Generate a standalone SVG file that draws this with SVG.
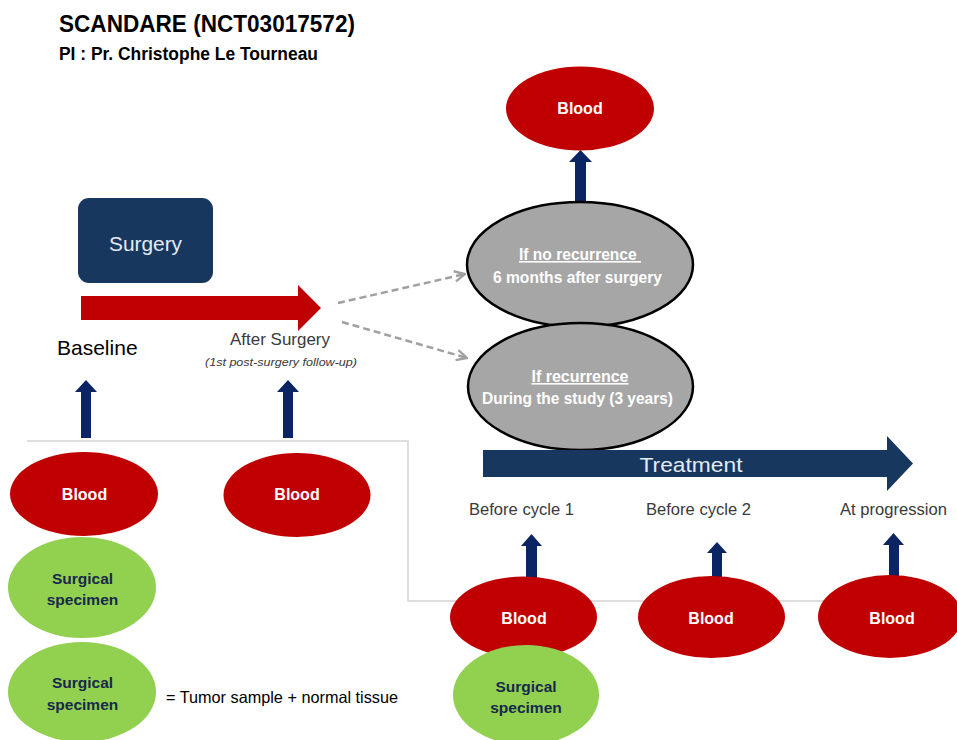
<svg xmlns="http://www.w3.org/2000/svg" width="957" height="740" viewBox="0 0 957 740">
<defs>
<style>
text{font-family:"Liberation Sans",Arial,sans-serif;}
.b{font-weight:bold;}
.w{fill:#ffffff;}
.red{fill:#c00000;}
.grn{fill:#92d050;}
.gry{fill:#a6a6a6;stroke:#000000;stroke-width:2.5;}
.gt{fill:#17294b;font-weight:bold;font-size:15.5px;}
.bt{fill:#ffffff;font-weight:bold;font-size:16px;}
.lbl{fill:#3a3a3a;font-size:16.5px;}
.up{fill:#0b2463;}
.dash{fill:none;stroke:#a0a0a0;stroke-width:2.5;stroke-dasharray:7 4;}
</style>
<marker id="open" viewBox="0 0 10 10" refX="9" refY="5" markerWidth="13" markerHeight="13" markerUnits="userSpaceOnUse" orient="auto">
<path d="M1,1 L9,5 L1,9" fill="none" stroke="#a0a0a0" stroke-width="1.8"/>
</marker>
</defs>
<rect width="957" height="740" fill="#ffffff"/>

<g id="title">
<text x="59" y="32" class="b" font-size="23.5" fill="#000" textLength="296" lengthAdjust="spacingAndGlyphs">SCANDARE (NCT03017572)</text>
<text x="59" y="60" class="b" font-size="18" fill="#000" textLength="259" lengthAdjust="spacingAndGlyphs">PI : Pr. Christophe Le Tourneau</text>
</g>

<g id="connectors">
<polyline points="27,441 408,441 408,601 957,601" fill="none" stroke="#d4d4d4" stroke-width="1.5"/>
<path class="dash" d="M338,303 L465,274" marker-end="url(#open)"/>
<path class="dash" d="M342,322 L467,358" marker-end="url(#open)"/>
<path class="up" d="M81,438 L81,392 L75,392 L86,380 L97,392 L91,392 L91,438 Z"/>
<path class="up" d="M283,438 L283,392 L277,392 L288,380 L299,392 L293,392 L293,438 Z"/>
<path class="up" d="M575,203 L575,162 L569,162 L580.5,150 L592,162 L586,162 L586,203 Z"/>
<path class="up" d="M526,578 L526,546 L521,546 L531.5,534 L542,546 L537,546 L537,578 Z"/>
<path class="up" d="M712,578 L712,553 L707,553 L717,542 L727,553 L722,553 L722,578 Z"/>
<path class="up" d="M889,576 L889,545 L883,545 L893.5,533 L904,545 L899,545 L899,576 Z"/>
</g>

<g id="surgery">
<rect x="78" y="198" width="135" height="85" rx="11" fill="#17375e"/>
<text x="145.5" y="251" font-size="21" fill="#e4ebf5" text-anchor="middle" textLength="73" lengthAdjust="spacingAndGlyphs">Surgery</text>
</g>

<g id="surgery-arrow">
<path d="M81,296 L298,296 L298,285 L321,308 L298,331 L298,320 L81,320 Z" fill="#c00000"/>
</g>

<g id="baseline-label">
<text x="57" y="355" font-size="21" fill="#000">Baseline</text>
</g>

<g id="after-surgery-label">
<text x="280" y="345" class="lbl" font-size="17" text-anchor="middle" textLength="100" lengthAdjust="spacingAndGlyphs">After Surgery</text>
<text x="281" y="366" font-size="11" font-style="italic" fill="#3a3a3a" text-anchor="middle" textLength="152" lengthAdjust="spacingAndGlyphs">(1st post-surgery follow-up)</text>
</g>

<g id="blood-followup">
<ellipse cx="580" cy="108.5" rx="74" ry="42" class="red"/>
<text x="580" y="114" class="bt" text-anchor="middle">Blood</text>
</g>

<g id="no-recurrence">
<ellipse cx="580" cy="264.5" rx="113" ry="62.5" class="gry"/>
<text x="580" y="260" class="bt" text-anchor="middle" text-decoration="underline" textLength="122" lengthAdjust="spacingAndGlyphs" xml:space="preserve">If no recurrence </text>
<text x="577.5" y="283" class="bt" text-anchor="middle" textLength="169" lengthAdjust="spacingAndGlyphs">6 months after surgery</text>
</g>

<g id="recurrence">
<ellipse cx="580.5" cy="386.5" rx="112.5" ry="63.5" class="gry"/>
<text x="580" y="382" class="bt" text-anchor="middle" text-decoration="underline" textLength="97" lengthAdjust="spacingAndGlyphs">If recurrence</text>
<text x="577.5" y="404" class="bt" text-anchor="middle" textLength="191" lengthAdjust="spacingAndGlyphs">During the study (3 years)</text>
</g>

<g id="treatment">
<path d="M483,450 L887,450 L887,436 L913,463.5 L887,491 L887,477 L483,477 Z" fill="#17375e"/>
<text x="691" y="472" font-size="21" fill="#e4ebf5" text-anchor="middle" textLength="103" lengthAdjust="spacingAndGlyphs">Treatment</text>
</g>

<g id="timepoint-labels">
<text x="521.5" y="515" class="lbl" text-anchor="middle" textLength="105" lengthAdjust="spacingAndGlyphs">Before cycle 1</text>
<text x="698.5" y="515" class="lbl" text-anchor="middle" textLength="105" lengthAdjust="spacingAndGlyphs">Before cycle 2</text>
<text x="893.5" y="515" class="lbl" text-anchor="middle" textLength="107" lengthAdjust="spacingAndGlyphs">At progression</text>
</g>

<g id="blood-baseline">
<ellipse cx="84" cy="494" rx="74" ry="42" class="red"/>
<text x="84.5" y="500" class="bt" text-anchor="middle">Blood</text>
</g>

<g id="blood-after-surgery">
<ellipse cx="297" cy="495" rx="73.5" ry="42" class="red"/>
<text x="297" y="500" class="bt" text-anchor="middle">Blood</text>
</g>

<g id="specimen-baseline">
<ellipse cx="82" cy="587.5" rx="74" ry="50.5" class="grn"/>
<text x="82.5" y="584" class="gt" text-anchor="middle">Surgical</text>
<text x="82.5" y="605" class="gt" text-anchor="middle">specimen</text>
</g>

<g id="specimen-legend">
<ellipse cx="82" cy="692" rx="74" ry="50" class="grn"/>
<text x="82.5" y="688" class="gt" text-anchor="middle">Surgical</text>
<text x="82.5" y="710" class="gt" text-anchor="middle">specimen</text>
<text x="166" y="703" font-size="16.5" fill="#000" textLength="232" lengthAdjust="spacingAndGlyphs">= Tumor sample + normal tissue</text>
</g>

<g id="blood-cycle1">
<ellipse cx="523.5" cy="617" rx="73.5" ry="40.5" class="red"/>
<text x="524" y="624" class="bt" text-anchor="middle">Blood</text>
</g>

<g id="specimen-cycle1">
<ellipse cx="526" cy="695" rx="73" ry="50" class="grn"/>
<text x="526" y="692" class="gt" text-anchor="middle">Surgical</text>
<text x="526" y="713" class="gt" text-anchor="middle">specimen</text>
</g>

<g id="blood-cycle2">
<ellipse cx="711.5" cy="617" rx="73.5" ry="41" class="red"/>
<text x="711" y="624" class="bt" text-anchor="middle">Blood</text>
</g>

<g id="blood-progression">
<ellipse cx="890" cy="616.5" rx="72" ry="41.5" class="red"/>
<text x="892" y="624" class="bt" text-anchor="middle">Blood</text>
</g>
</svg>
